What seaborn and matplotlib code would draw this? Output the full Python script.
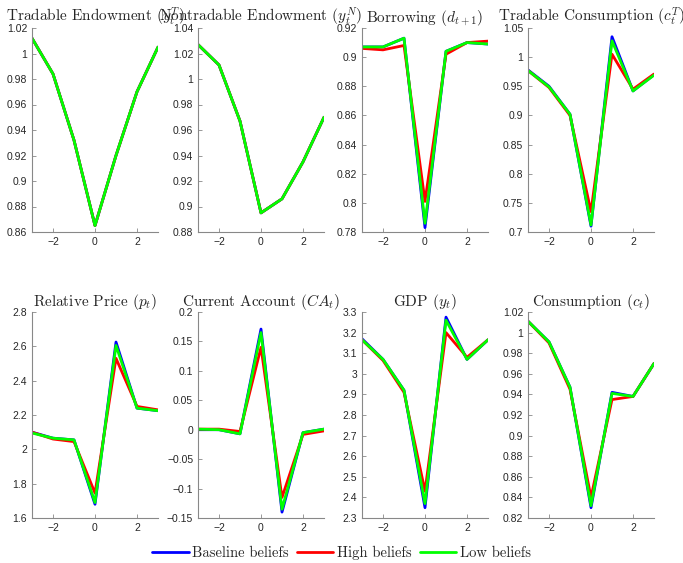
import matplotlib
matplotlib.use("Agg")
import matplotlib.pyplot as plt
import seaborn as sns
import pandas as pd
from matplotlib.ticker import FuncFormatter, MultipleLocator

sns.set_style("ticks")
plt.rcParams["mathtext.fontset"] = "cm"
plt.rcParams["font.family"] = ["Liberation Sans", "DejaVu Sans"]

periods = [-3, -2, -1, 0, 1, 2, 3]
series_names = ["Baseline beliefs", "High beliefs", "Low beliefs"]
series_colors = ["#0000ff", "#ff0000", "#00ff00"]

# tradable endowment (same for all beliefs)
yT = [1.012, 0.984, 0.932, 0.865, 0.920, 0.970, 1.005]
# nontradable endowment (same for all beliefs)
yN = [1.027, 1.011, 0.967, 0.895, 0.906, 0.935, 0.970]

borrow_base = [0.907, 0.907, 0.913, 0.783, 0.904, 0.910, 0.909]
borrow_high = [0.906, 0.905, 0.908, 0.801, 0.902, 0.910, 0.911]
borrow_low = [0.907, 0.907, 0.913, 0.786, 0.904, 0.910, 0.909]

cT_base = [0.978, 0.950, 0.902, 0.710, 1.035, 0.942, 0.970]
cT_high = [0.977, 0.948, 0.900, 0.735, 1.005, 0.945, 0.971]
cT_low = [0.977, 0.949, 0.902, 0.712, 1.028, 0.942, 0.969]

price_base = [2.100, 2.065, 2.055, 1.680, 2.625, 2.240, 2.225]
price_high = [2.100, 2.060, 2.045, 1.745, 2.530, 2.250, 2.230]
price_low = [2.095, 2.065, 2.055, 1.690, 2.605, 2.240, 2.225]

ca_base = [0.000, 0.000, -0.007, 0.171, -0.140, -0.005, 0.001]
ca_high = [0.001, 0.001, -0.003, 0.140, -0.115, -0.008, -0.002]
ca_low = [0.001, 0.000, -0.007, 0.165, -0.135, -0.005, 0.001]

gdp_base = [3.170, 3.070, 2.920, 2.350, 3.275, 3.070, 3.165]
gdp_high = [3.165, 3.065, 2.910, 2.430, 3.200, 3.080, 3.165]
gdp_low = [3.165, 3.070, 2.920, 2.370, 3.260, 3.070, 3.165]

c_base = [1.011, 0.991, 0.947, 0.830, 0.942, 0.938, 0.970]
c_high = [1.011, 0.990, 0.945, 0.840, 0.935, 0.938, 0.970]
c_low = [1.011, 0.991, 0.947, 0.832, 0.941, 0.938, 0.970]

panels = [
    ("Tradable Endowment ($y_t^T$)", [yT, yT, yT], (0.86, 1.02), 0.02),
    ("Nontradable Endowment ($y_t^N$)", [yN, yN, yN], (0.88, 1.04), 0.02),
    ("Borrowing ($d_{t+1}$)", [borrow_base, borrow_high, borrow_low], (0.78, 0.92), 0.02),
    ("Tradable Consumption ($c_t^T$)", [cT_base, cT_high, cT_low], (0.70, 1.05), 0.05),
    ("Relative Price ($p_t$)", [price_base, price_high, price_low], (1.6, 2.8), 0.2),
    ("Current Account ($CA_t$)", [ca_base, ca_high, ca_low], (-0.15, 0.2), 0.05),
    ("GDP ($y_t$)", [gdp_base, gdp_high, gdp_low], (2.3, 3.3), 0.1),
    ("Consumption ($c_t$)", [c_base, c_high, c_low], (0.82, 1.02), 0.02),
]

fig = plt.figure(figsize=(6.83, 5.63), dpi=100)
lefts = [32, 198, 362, 528]
width_px = 126
rows = [(28, 232), (312, 518)]
W, H = 683, 563

fmt = FuncFormatter(lambda v, p: ("%g" % round(v, 6)).replace("-", "\u2212"))

for i, (title, data, ylim, step) in enumerate(panels):
    r, c = divmod(i, 4)
    top, bot = rows[r]
    ax = fig.add_axes([lefts[c] / W, 1 - bot / H, width_px / W, (bot - top) / H])
    frames = []
    for name, vals in zip(series_names, data):
        frames.append(pd.DataFrame({"t": periods, "v": vals, "s": name}))
    df = pd.concat(frames, ignore_index=True)
    sns.lineplot(data=df, x="t", y="v", hue="s", hue_order=series_names,
                 palette=series_colors, linewidth=2.0, sort=False,
                 estimator=None, legend=(i == 0), ax=ax)
    if i == 0:
        handles, labels = ax.get_legend_handles_labels()
        ax.get_legend().remove()
    ax.set_xlim(-3, 3)
    ax.set_ylim(*ylim)
    ax.set_xticks([-2, 0, 2])
    ax.yaxis.set_major_locator(MultipleLocator(step))
    ax.yaxis.set_major_formatter(fmt)
    ax.xaxis.set_major_formatter(fmt)
    ax.set_xlabel("")
    ax.set_ylabel("")
    ax.set_title(title, fontsize=11, fontname="cmr10", pad=4)
    sns.despine(ax=ax)
    for sp in ["left", "bottom"]:
        ax.spines[sp].set_color("#888888")
        ax.spines[sp].set_linewidth(0.8)
    ax.tick_params(direction="in", length=3, width=0.6, colors="#888888",
                   labelcolor="#262626", labelsize=7.5)

for h in handles:
    h.set_linewidth(2.0)
fig.legend(handles, labels, loc="center", bbox_to_anchor=(0.5, 1 - 553 / H),
           ncol=3, frameon=False, handlelength=2.5, handletextpad=0.25,
           columnspacing=0.55, prop={"family": "cmr10", "size": 10.5})

fig.savefig("out.png", dpi=100)
